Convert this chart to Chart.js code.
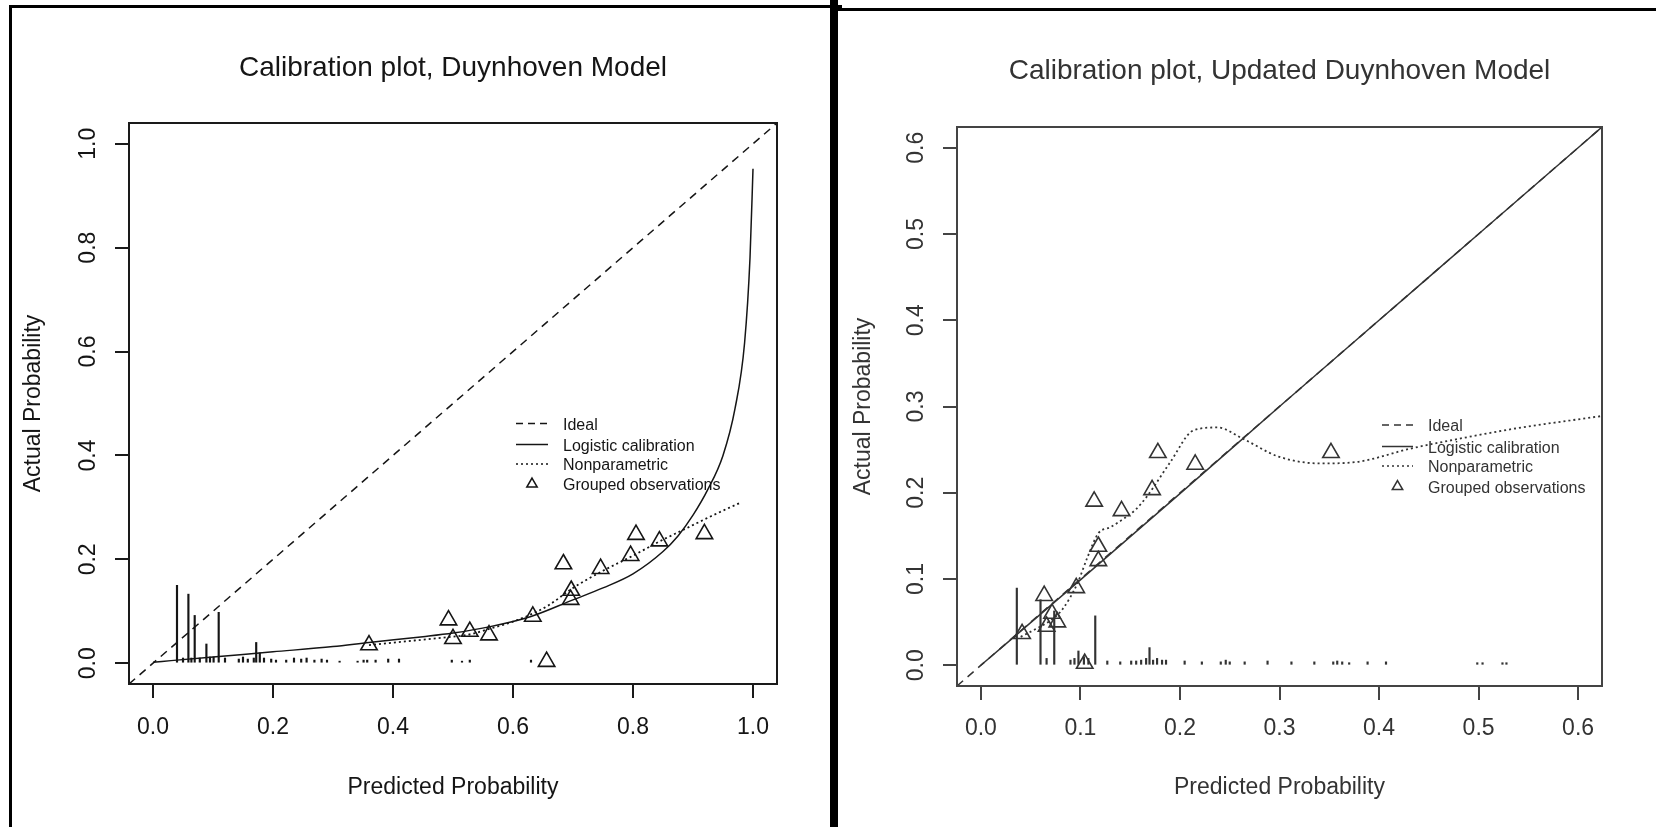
<!DOCTYPE html>
<html>
<head>
<meta charset="utf-8">
<script src="https://cdn.jsdelivr.net/npm/chart.js@4.4.1/dist/chart.umd.min.js"></script>
<style>
  html, body { margin: 0; padding: 0; background: #fff; }
  body { width: 1656px; height: 827px; position: relative; overflow: hidden; }
  canvas { position: absolute; top: 0; }
  #left { left: 0; }
  #right { left: 830px; }
  .frame { position: absolute; border: 0 solid #000; pointer-events: none; }
</style>
</head>
<body>
<canvas id="left" width="830" height="827"></canvas>
<canvas id="right" width="826" height="827"></canvas>
<div class="frame" style="left:9px;top:5px;width:830px;height:900px;border-width:3px 0 0 3px;"></div>
<div class="frame" style="left:838px;top:8px;width:900px;height:0;border-width:3px 0 0 0;"></div>
<div class="frame" style="left:830px;top:0;width:0;height:827px;border-width:0 0 0 8px;"></div>
<script>
// ---- left panel: Duynhoven model ----
const xTicksL = [0, 0.2, 0.4, 0.6, 0.8, 1.0];
const yTicksL = [0, 0.2, 0.4, 0.6, 0.8, 1.0];
const rangeL = [-0.04, 1.04];

const logisticXL = [0.0, 0.03, 0.1, 0.2, 0.3, 0.36, 0.45, 0.5, 0.56, 0.63, 0.7, 0.75, 0.8, 0.85, 0.875, 0.9, 0.925, 0.95, 0.97, 0.986, 0.995, 1.0];
const logisticYL = [0.002, 0.005, 0.012, 0.022, 0.032, 0.040, 0.051, 0.058, 0.070, 0.090, 0.122, 0.145, 0.172, 0.215, 0.245, 0.285, 0.335, 0.40, 0.49, 0.617, 0.78, 0.952];

const smoothXL = [0.36, 0.42, 0.49, 0.53, 0.56, 0.60, 0.63, 0.66, 0.70, 0.75, 0.80, 0.845, 0.886, 0.93, 0.977];
const smoothYL = [0.035, 0.042, 0.050, 0.056, 0.066, 0.080, 0.094, 0.112, 0.145, 0.178, 0.207, 0.235, 0.258, 0.283, 0.308];

const groupXL = [0.36, 0.4925, 0.50, 0.528, 0.56, 0.633, 0.656, 0.684, 0.697, 0.696, 0.746, 0.796, 0.805, 0.844, 0.919];
const groupYL = [0.035, 0.083, 0.047, 0.061, 0.054, 0.090, 0.003, 0.191, 0.140, 0.1225, 0.182, 0.207, 0.2475, 0.235, 0.249];

const rugXL = [0.040, 0.050, 0.059, 0.064, 0.0695, 0.078, 0.089, 0.095, 0.101, 0.1095, 0.120, 0.143, 0.150, 0.158, 0.168, 0.172, 0.178, 0.185, 0.197,
  0.205, 0.222, 0.235, 0.247, 0.256, 0.269, 0.281, 0.290, 0.311, 0.341, 0.351, 0.357, 0.371, 0.392, 0.410, 0.498, 0.515, 0.528, 0.630];
const rugHL = [0.150, 0.010, 0.133, 0.010, 0.092, 0.010, 0.037, 0.012, 0.012, 0.098, 0.010, 0.008, 0.012, 0.008, 0.010, 0.040, 0.020, 0.010, 0.008,
  0.006, 0.006, 0.010, 0.008, 0.010, 0.006, 0.008, 0.006, 0.004, 0.004, 0.006, 0.006, 0.006, 0.008, 0.008, 0.006, 0.004, 0.006, 0.006];

// ---- right panel: updated Duynhoven model ----
const xTicksR = [0, 0.1, 0.2, 0.3, 0.4, 0.5, 0.6];
const yTicksR = [0, 0.1, 0.2, 0.3, 0.4, 0.5, 0.6];
const rangeR = [-0.024, 0.624];

const logisticXR = [0.0, 0.1, 0.2, 0.3, 0.4, 0.5, 0.6, 0.624];
const logisticYR = [0.0, 0.099, 0.199, 0.300, 0.400, 0.500, 0.600, 0.624];

const smoothXR = [0.040, 0.055, 0.070, 0.082, 0.097, 0.107, 0.118, 0.130, 0.141, 0.155, 0.167, 0.19, 0.214, 0.238, 0.262, 0.299, 0.341, 0.378, 0.431, 0.484, 0.537, 0.624];
const smoothYR = [0.033, 0.042, 0.052, 0.065, 0.095, 0.125, 0.153, 0.160, 0.168, 0.180, 0.196, 0.235, 0.2726, 0.2757, 0.2634, 0.242, 0.234, 0.2358, 0.251, 0.2634, 0.2745, 0.289];

const groupXR = [0.0414, 0.0636, 0.066, 0.0715, 0.0768, 0.0958, 0.1043, 0.1138, 0.118, 0.118, 0.1413, 0.172, 0.1778, 0.2153, 0.3517];
const groupYR = [0.0365, 0.0807, 0.045, 0.060, 0.050, 0.0898, 0.002, 0.190, 0.1377, 0.121, 0.179, 0.2033, 0.2463, 0.2328, 0.2463];

const rugXR = [0.0361, 0.0599, 0.066, 0.0737, 0.090, 0.094, 0.098, 0.1035, 0.108, 0.1149, 0.127, 0.140, 0.151, 0.156, 0.161, 0.166, 0.1694, 0.173,
  0.177, 0.182, 0.186, 0.2047, 0.222, 0.241, 0.246, 0.250, 0.265, 0.288, 0.312, 0.335, 0.354, 0.358, 0.363, 0.370, 0.3885, 0.407, 0.4987, 0.504, 0.524, 0.528];
const rugHR = [0.0895, 0.076, 0.008, 0.063, 0.006, 0.008, 0.0166, 0.010, 0.008, 0.0573, 0.005, 0.004, 0.005, 0.005, 0.006, 0.008, 0.0205, 0.006,
  0.008, 0.006, 0.006, 0.005, 0.004, 0.004, 0.006, 0.004, 0.004, 0.005, 0.004, 0.004, 0.004, 0.005, 0.004, 0.003, 0.004, 0.004, 0.003, 0.003, 0.003, 0.003];

const legendLabels = ["Ideal", "Logistic calibration", "Nonparametric", "Grouped observations"];

const FONT = '"Liberation Sans", Arial, sans-serif';

function pts(xs, ys) {
  return xs.map((x, i) => ({ x, y: ys[i] }));
}

function drawTriangle(ctx, x, y, r) {
  ctx.beginPath();
  ctx.moveTo(x, y - r);
  ctx.lineTo(x + r * Math.sqrt(3) / 2, y + r / 2);
  ctx.lineTo(x - r * Math.sqrt(3) / 2, y + r / 2);
  ctx.closePath();
  ctx.stroke();
}

function panel(id, p) {
  const ink = p.ink;

  // box, titles, y tick labels and legend, R style
  const decor = {
    id: "decor",
    afterDraw(chart) {
      const ctx = chart.ctx;
      const a = chart.chartArea;
      const cx = (a.left + a.right) / 2;
      ctx.save();
      ctx.strokeStyle = p.boxInk;
      ctx.lineWidth = 2;
      ctx.strokeRect(a.left, a.top, a.right - a.left, a.bottom - a.top);

      ctx.fillStyle = ink;
      ctx.textAlign = "center";
      ctx.textBaseline = "middle";
      ctx.font = "28px " + FONT;
      ctx.fillText(p.title, cx, p.titleY);
      ctx.font = "23px " + FONT;
      ctx.fillText("Predicted Probability", cx, 788);

      ctx.save();
      ctx.translate(p.yTitleX, (a.top + a.bottom) / 2);
      ctx.rotate(-Math.PI / 2);
      ctx.fillText("Actual Probability", 0, 0);
      ctx.restore();

      const ys = chart.scales.y;
      p.yTicks.forEach(v => {
        ctx.save();
        ctx.translate(a.left - 40, ys.getPixelForValue(v));
        ctx.rotate(-Math.PI / 2);
        ctx.fillText(v.toFixed(1), 0, 0);
        ctx.restore();
      });

      // legend
      const lg = p.legend;
      ctx.font = "16px " + FONT;
      ctx.textAlign = "left";
      ctx.strokeStyle = ink;
      ctx.lineWidth = 1.5;
      const dashes = [[7, 5], [], [2, 3]];
      dashes.forEach((d, i) => {
        ctx.setLineDash(d);
        ctx.beginPath();
        ctx.moveTo(lg.x0, lg.rows[i]);
        ctx.lineTo(lg.x1, lg.rows[i]);
        ctx.stroke();
      });
      ctx.setLineDash([]);
      drawTriangle(ctx, (lg.x0 + lg.x1) / 2, lg.rows[3], 6);
      legendLabels.forEach((t, i) => ctx.fillText(t, lg.tx, lg.rows[i] + 2));
      ctx.restore();
    }
  };

  return new Chart(document.getElementById(id), {
    type: "scatter",
    data: {
      datasets: [
        {
          type: "bar",
          data: pts(p.rugX, p.rugH),
          backgroundColor: ink,
          barThickness: 1.5,
          order: 4
        },
        {
          type: "line",
          data: pts(p.range, p.range),
          borderColor: ink,
          borderWidth: 1.5,
          borderDash: [8, 6],
          pointRadius: 0,
          order: 3
        },
        {
          type: "line",
          data: pts(p.logX, p.logY),
          borderColor: ink,
          borderWidth: 1.5,
          pointRadius: 0,
          cubicInterpolationMode: "monotone",
          order: 2
        },
        {
          type: "line",
          data: pts(p.smX, p.smY),
          borderColor: ink,
          borderWidth: 1.8,
          borderDash: [2, 3],
          pointRadius: 0,
          cubicInterpolationMode: "monotone",
          order: 1
        },
        {
          type: "scatter",
          data: pts(p.grX, p.grY),
          pointStyle: "triangle",
          pointRadius: 9.5,
          borderColor: ink,
          borderWidth: 1.6,
          backgroundColor: "rgba(0,0,0,0)",
          order: 0
        }
      ]
    },
    options: {
      responsive: false,
      animation: false,
      events: [],
      devicePixelRatio: 1,
      layout: { padding: { top: p.area.top, right: p.width - p.area.right, bottom: 0, left: 0 } },
      plugins: { legend: { display: false }, tooltip: { enabled: false }, title: { display: false } },
      scales: {
        x: {
          type: "linear",
          min: p.range[0],
          max: p.range[1],
          offset: false,
          afterBuildTicks: s => { s.ticks = p.xTicks.map(v => ({ value: v })); },
          afterFit: s => { s.height = 827 - p.area.bottom; },
          border: { display: false },
          grid: { offset: false, drawOnChartArea: false, drawTicks: true, tickLength: 14, color: p.boxInk, lineWidth: 2 },
          ticks: {
            padding: p.xPad,
            color: ink,
            autoSkip: false,
            maxRotation: 0,
            font: { family: FONT, size: 23 },
            callback: v => v.toFixed(1)
          }
        },
        y: {
          type: "linear",
          min: p.range[0],
          max: p.range[1],
          afterBuildTicks: s => { s.ticks = p.yTicks.map(v => ({ value: v })); },
          afterFit: s => { s.width = p.area.left; },
          border: { display: false },
          grid: { drawOnChartArea: false, drawTicks: true, tickLength: 14, color: p.boxInk, lineWidth: 2 },
          ticks: { display: false }
        }
      }
    },
    plugins: [decor]
  });
}

panel("left", {
  ink: "#151515", boxInk: "#1a1a1a", width: 830,
  area: { left: 129, right: 777, top: 123, bottom: 684 },
  xPad: 16, titleY: 68, yTitleX: 34,
  title: "Calibration plot, Duynhoven Model",
  range: rangeL, xTicks: xTicksL, yTicks: yTicksL,
  logX: logisticXL, logY: logisticYL, smX: smoothXL, smY: smoothYL,
  grX: groupXL, grY: groupYL, rugX: rugXL, rugH: rugHL,
  legend: { x0: 516, x1: 548, tx: 563, rows: [423.5, 444.5, 464, 484] }
});

panel("right", {
  ink: "#333333", boxInk: "#444444", width: 826,
  area: { left: 127, right: 772, top: 127, bottom: 686 },
  xPad: 15, titleY: 71, yTitleX: 34,
  title: "Calibration plot, Updated Duynhoven Model",
  range: rangeR, xTicks: xTicksR, yTicks: yTicksR,
  logX: logisticXR, logY: logisticYR, smX: smoothXR, smY: smoothYR,
  grX: groupXR, grY: groupYR, rugX: rugXR, rugH: rugHR,
  legend: { x0: 552, x1: 583, tx: 598, rows: [425, 446.5, 466, 486.5] }
});
</script>
</body>
</html>
